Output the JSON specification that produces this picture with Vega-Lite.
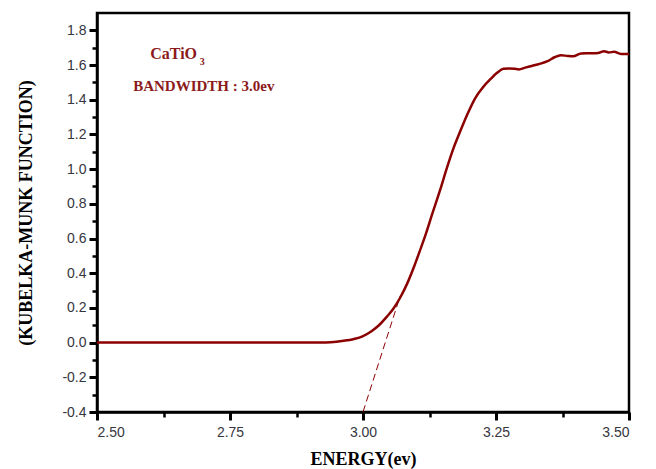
{
  "$schema": "https://vega.github.io/schema/vega-lite/v6.json",
  "width": 532,
  "height": 399,
  "autosize": {"type": "none"},
  "padding": {"left": 97, "top": 13, "right": 27, "bottom": 57},
  "background": "white",
  "config": {
    "view": {"stroke": "black", "strokeWidth": 2.5},
    "axis": {
      "grid": false,
      "domainColor": "black",
      "domainWidth": 2.5,
      "labelFont": "Liberation Sans",
      "labelFontSize": 14,
      "labelColor": "#363640",
      "titleFont": "Liberation Serif",
      "titleFontWeight": "bold",
      "titleFontSize": 18,
      "titleColor": "black"
    }
  },
  "datasets": {
    "curve": [
      {"energy": 2.5, "km": 0}, {"energy": 2.6, "km": 0}, {"energy": 2.7, "km": 0},
      {"energy": 2.8, "km": 0}, {"energy": 2.9, "km": 0}, {"energy": 2.93, "km": 0.001},
      {"energy": 2.95, "km": 0.005}, {"energy": 2.97, "km": 0.013}, {"energy": 2.985, "km": 0.022},
      {"energy": 3.0, "km": 0.038}, {"energy": 3.016, "km": 0.066}, {"energy": 3.03, "km": 0.1},
      {"energy": 3.045, "km": 0.15}, {"energy": 3.057, "km": 0.195}, {"energy": 3.07, "km": 0.26},
      {"energy": 3.083, "km": 0.34}, {"energy": 3.095, "km": 0.43}, {"energy": 3.107, "km": 0.53},
      {"energy": 3.118, "km": 0.625}, {"energy": 3.13, "km": 0.74}, {"energy": 3.145, "km": 0.88},
      {"energy": 3.158, "km": 1.01}, {"energy": 3.17, "km": 1.12}, {"energy": 3.183, "km": 1.22},
      {"energy": 3.196, "km": 1.315}, {"energy": 3.211, "km": 1.41}, {"energy": 3.225, "km": 1.47},
      {"energy": 3.24, "km": 1.52}, {"energy": 3.252, "km": 1.555}, {"energy": 3.264, "km": 1.578},
      {"energy": 3.275, "km": 1.58}, {"energy": 3.285, "km": 1.578}, {"energy": 3.293, "km": 1.575},
      {"energy": 3.305, "km": 1.585}, {"energy": 3.315, "km": 1.593}, {"energy": 3.33, "km": 1.605},
      {"energy": 3.347, "km": 1.622}, {"energy": 3.36, "km": 1.645}, {"energy": 3.372, "km": 1.657},
      {"energy": 3.385, "km": 1.652}, {"energy": 3.395, "km": 1.65}, {"energy": 3.41, "km": 1.667},
      {"energy": 3.43, "km": 1.668}, {"energy": 3.442, "km": 1.67}, {"energy": 3.453, "km": 1.68},
      {"energy": 3.462, "km": 1.673}, {"energy": 3.472, "km": 1.676}, {"energy": 3.485, "km": 1.664},
      {"energy": 3.5, "km": 1.664}
    ],
    "tangent": [
      {"energy": 3.0, "km": -0.4},
      {"energy": 3.07, "km": 0.27}
    ],
    "labels": [
      {"energy": 2.6, "km": 1.632, "text": "CaTiO", "size": "big"},
      {"energy": 2.568, "km": 1.4475, "text": "BANDWIDTH : 3.0ev", "size": "mid"}
    ],
    "sub": [
      {"energy": 2.693, "km": 1.603, "text": "3"}
    ]
  },
  "resolve": {"axis": {"x": "independent", "y": "independent"}},
  "layer": [
    {
      "data": {"name": "curve"},
      "mark": {"type": "line", "color": "#8b0000", "strokeWidth": 2.5, "interpolate": "monotone"},
      "encoding": {
        "x": {
          "field": "energy", "type": "quantitative",
          "scale": {"domain": [2.5, 3.5], "nice": false, "zero": false},
          "axis": {
            "values": [2.5, 2.75, 3.0, 3.25, 3.5], "format": ".2f",
            "tickColor": "#000000", "tickWidth": 3, "tickSize": 8,
            "labelPadding": 5, "title": "ENERGY(ev)", "titlePadding": 11
          }
        },
        "y": {
          "field": "km", "type": "quantitative",
          "scale": {"domain": [-0.4, 1.9], "nice": false, "zero": false},
          "axis": {
            "values": [-0.4, -0.2, 0, 0.2, 0.4, 0.6, 0.8, 1.0, 1.2, 1.4, 1.6, 1.8],
            "labelExpr": "replace(format(datum.value, '.1f'), '\u2212', '-')",
            "tickColor": "#000000", "tickWidth": 3, "tickSize": 8,
            "labelPadding": 3, "title": "(KUBELKA-MUNK FUNCTION)", "titlePadding": 26
          }
        }
      }
    },
    {
      "data": {"name": "tangent"},
      "mark": {"type": "line", "color": "#8b0000", "strokeWidth": 1, "strokeDash": [7, 4]},
      "encoding": {
        "x": {
          "field": "energy", "type": "quantitative",
          "axis": {
            "orient": "bottom", "values": [2.625, 2.875, 3.125, 3.375], "labels": false,
            "domain": false, "tickColor": "#000000", "tickWidth": 2.5, "tickSize": 5, "title": null
          }
        },
        "y": {
          "field": "km", "type": "quantitative",
          "axis": {
            "orient": "left", "values": [-0.3, -0.1, 0.1, 0.3, 0.5, 0.7, 0.9, 1.1, 1.3, 1.5, 1.7], "labels": false,
            "domain": false, "tickColor": "#000000", "tickWidth": 2.5, "tickSize": 5, "title": null
          }
        }
      }
    },
    {
      "data": {"name": "labels"},
      "mark": {"type": "text", "align": "left", "baseline": "alphabetic", "font": "Liberation Serif", "fontWeight": "bold", "color": "#8b1a1a"},
      "encoding": {
        "x": {"field": "energy", "type": "quantitative", "axis": null},
        "y": {"field": "km", "type": "quantitative", "axis": null},
        "text": {"field": "text"},
        "size": {"field": "size", "type": "nominal", "scale": {"domain": ["big", "mid"], "range": [16, 15]}, "legend": null}
      }
    },
    {
      "data": {"name": "sub"},
      "mark": {"type": "text", "align": "left", "baseline": "alphabetic", "font": "Liberation Serif", "fontWeight": "bold", "fontSize": 10, "color": "#8b1a1a"},
      "encoding": {
        "x": {"field": "energy", "type": "quantitative", "axis": null},
        "y": {"field": "km", "type": "quantitative", "axis": null},
        "text": {"field": "text"}
      }
    }
  ]
}
